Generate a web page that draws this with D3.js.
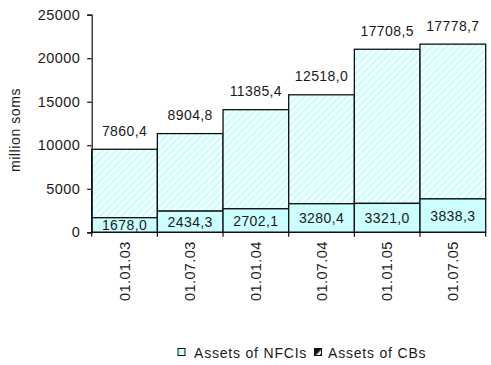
<!DOCTYPE html>
<html>
<head>
<meta charset="utf-8">
<script src="https://cdn.jsdelivr.net/npm/d3@7/dist/d3.min.js"></script>
<style>
  html, body { margin: 0; padding: 0; background: #fff; }
  svg text { font-family: "Liberation Sans", Arial, sans-serif; fill: #1a1a1a; }
</style>
</head>
<body>
<svg id="chart" width="491" height="365"></svg>
<script>
// Dates of the reporting periods
const categories = ["01.01.03", "01.07.03", "01.01.04", "01.07.04", "01.01.05", "01.07.05"];
// Assets of non-bank financial-credit institutions, million soms
const nfciValues = [1678.0, 2434.3, 2702.1, 3280.4, 3321.0, 3838.3];
// Assets of commercial banks, million soms
const cbValues = [7860.4, 8904.8, 11385.4, 12518.0, 17708.5, 17778.7];
const yTicks = [0, 5000, 10000, 15000, 20000, 25000];
const seriesNames = ["Assets of NFCIs", "Assets of CBs"];

const fmt = v => v.toFixed(1).replace(".", ",");

const svg = d3.select("#chart");
const plotLeft = 91.7, plotRight = 485.7, plotTop = 14.7, plotBottom = 232.3;

const x = d3.scaleBand().domain(categories).range([plotLeft, plotRight]).padding(0);
const y = d3.scaleLinear().domain([0, 25000]).range([plotBottom, plotTop]);

// Fill patterns: light cyan with white diagonal stripes, and a dark legend swatch
const defs = svg.append("defs");
const hatch = defs.append("pattern")
  .attr("id", "hatch").attr("patternUnits", "userSpaceOnUse")
  .attr("width", 5).attr("height", 5)
  .attr("patternTransform", "rotate(45)");
hatch.append("rect").attr("width", 5).attr("height", 5).attr("fill", "#ccffff");
hatch.append("rect").attr("width", 2.2).attr("height", 5).attr("fill", "#ffffff");

const hatchDark = defs.append("pattern")
  .attr("id", "hatchDark").attr("patternUnits", "userSpaceOnUse")
  .attr("width", 8).attr("height", 8)
  .attr("patternTransform", "rotate(45)");
hatchDark.append("rect").attr("width", 8).attr("height", 8).attr("fill", "#111");
hatchDark.append("rect").attr("x", 2.5).attr("width", 2.5).attr("height", 8).attr("fill", "#ffffff");

const rows = categories.map((c, i) => ({ c, n: nfciValues[i], b: cbValues[i] }));

const bars = svg.append("g");
// Upper segment: commercial banks
bars.selectAll("rect.cb").data(rows).join("rect")
  .attr("class", "cb")
  .attr("x", d => x(d.c)).attr("width", x.bandwidth())
  .attr("y", d => y(d.n + d.b)).attr("height", d => y(d.n) - y(d.n + d.b))
  .attr("fill", "url(#hatch)").attr("stroke", "#111").attr("stroke-width", 1.3);
// Lower segment: NFCIs
bars.selectAll("rect.nfci").data(rows).join("rect")
  .attr("class", "nfci")
  .attr("x", d => x(d.c)).attr("width", x.bandwidth())
  .attr("y", d => y(d.n)).attr("height", d => y(0) - y(d.n))
  .attr("fill", "#ccffff").attr("stroke", "#111").attr("stroke-width", 1.3);

// Value labels
svg.append("g").selectAll("text").data(rows).join("text")
  .attr("x", d => x(d.c) + x.bandwidth() / 2)
  .attr("y", d => (y(d.n) + y(0)) / 2)
  .attr("dy", "0.36em").attr("text-anchor", "middle")
  .style("font-size", "14px").style("letter-spacing", "0.4px")
  .text(d => fmt(d.n));
svg.append("g").selectAll("text").data(rows).join("text")
  .attr("x", d => x(d.c) + x.bandwidth() / 2)
  .attr("y", d => y(d.n + d.b) - 18.5)
  .attr("dy", "0.36em").attr("text-anchor", "middle")
  .style("font-size", "14px").style("letter-spacing", "0.4px")
  .text(d => fmt(d.b));

// Y axis
const yAxis = svg.append("g").attr("transform", `translate(${plotLeft},0)`)
  .call(d3.axisLeft(y).tickValues(yTicks).tickSize(4.5).tickPadding(7).tickFormat(d3.format("d")));
yAxis.select(".domain").attr("stroke", "#111").attr("stroke-width", 1.2);
yAxis.selectAll(".tick line").attr("stroke", "#111").attr("stroke-width", 1.2);
yAxis.selectAll(".tick text").style("font-size", "14.5px").style("letter-spacing", "0.4px")
  .attr("font-family", null).attr("fill", null);

// X axis: ticks at category boundaries
const edges = categories.map(c => x(c)).concat([plotRight]);
const xg = svg.append("g");
xg.append("line").attr("x1", plotLeft).attr("x2", plotRight).attr("y1", plotBottom).attr("y2", plotBottom)
  .attr("stroke", "#111").attr("stroke-width", 1.2);
xg.selectAll("line.t").data(edges).join("line").attr("class", "t")
  .attr("x1", d => d).attr("x2", d => d).attr("y1", plotBottom).attr("y2", plotBottom + 4.5)
  .attr("stroke", "#111").attr("stroke-width", 1.2);
xg.selectAll("text").data(categories).join("text")
  .attr("transform", c => `translate(${x(c) + x.bandwidth() / 2},${plotBottom + 9}) rotate(-90)`)
  .attr("text-anchor", "end").attr("dy", "0.36em")
  .style("font-size", "14.5px").style("letter-spacing", "0.4px")
  .text(c => c);

// Y axis title
svg.append("text")
  .attr("transform", `translate(15,130) rotate(-90)`)
  .attr("text-anchor", "middle").attr("dy", "0.36em")
  .style("font-size", "14px").style("letter-spacing", "0.6px")
  .text("million soms");

// Legend
const legend = svg.append("g");
const items = [
  { name: seriesNames[0], fill: "#ccffff", sx: 178, tx: 194 },
  { name: seriesNames[1], fill: "url(#hatchDark)", sx: 314.5, tx: 328 }
];
items.forEach(it => {
  legend.append("rect").attr("x", it.sx).attr("y", 348.5).attr("width", 7).attr("height", 7)
    .attr("fill", it.fill).attr("stroke", "#111").attr("stroke-width", 1);
  legend.append("text").attr("x", it.tx).attr("y", 352.5).attr("dy", "0.36em")
    .style("font-size", "14px").style("letter-spacing", "0.8px")
    .text(it.name);
});
</script>
</body>
</html>
